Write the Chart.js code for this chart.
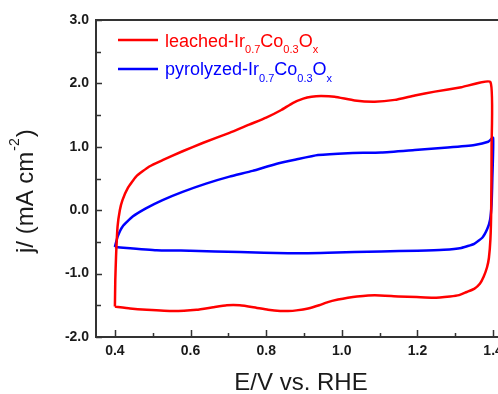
<!DOCTYPE html>
<html>
<head>
<meta charset="utf-8">
<script src="https://cdn.jsdelivr.net/npm/chart.js@4.4.1/dist/chart.umd.min.js"></script>
<style>
  html, body { margin: 0; padding: 0; background: #fff; }
  #wrap { width: 498px; height: 394px; overflow: hidden; }
  canvas { display: block; }
</style>
</head>
<body>
<div id="wrap"><canvas id="cvCanvas" width="512" height="394" style="width:512px;height:394px"></canvas></div>
<script>
(function(){
  'use strict';

  // ---- Datos ----
  const seriesNames  = ['leached-Ir_{0.7}Co_{0.3}O_{x}', 'pyrolyzed-Ir_{0.7}Co_{0.3}O_{x}'];
  const seriesColors = ['#ff0000', '#0000ff'];

  // leached: barrido anódico, vuelta por 1.4 V y barrido catódico
  const leachedE = [0.400, 0.401, 0.403, 0.407, 0.413, 0.420, 0.434, 0.456, 0.491, 0.526, 0.579, 0.632, 0.703,
                    0.755, 0.800, 0.840, 0.870, 0.898, 0.920, 0.945, 0.981, 1.034, 1.087, 1.140, 1.193, 1.246, 1.316,
                    1.393, 1.396, 1.395, 1.393, 1.389, 1.384, 1.375, 1.365, 1.350, 1.330, 1.310, 1.286, 1.242,
                    1.198, 1.149, 1.087, 1.040, 1.016, 0.990, 0.963, 0.940, 0.911, 0.880, 0.858, 0.837, 0.805,
                    0.766, 0.730, 0.696, 0.660, 0.616, 0.554, 0.484, 0.440, 0.400];
  const leachedJ = [-1.52, -1.10, -0.73, -0.26, 0.00, 0.16, 0.35, 0.53, 0.69, 0.79, 0.93, 1.06, 1.22,
                    1.35, 1.46, 1.58, 1.69, 1.76, 1.79, 1.80, 1.79, 1.73, 1.71, 1.74, 1.81, 1.87, 1.94,
                    2.02, 1.00, 0.00, -0.45, -0.75, -0.90, -1.05, -1.16, -1.24, -1.29, -1.34, -1.36, -1.38,
                    -1.37, -1.36, -1.34, -1.36, -1.38, -1.41, -1.45, -1.50, -1.55, -1.58, -1.59, -1.59, -1.57,
                    -1.53, -1.50, -1.50, -1.53, -1.57, -1.59, -1.57, -1.55, -1.52];

  const pyrolyzedE = [0.400, 0.407, 0.420, 0.447, 0.482, 0.526, 0.579, 0.641, 0.703, 0.764, 0.826, 0.879, 0.937,
                      1.016, 1.104, 1.193, 1.280, 1.351, 1.387, 1.400, 1.398, 1.396, 1.392, 1.385, 1.372, 1.350,
                      1.316, 1.270, 1.200, 1.104, 0.963, 0.858, 0.730, 0.600, 0.510, 0.400];
  const pyrolyzedJ = [-0.58, -0.42, -0.26, -0.10, 0.03, 0.16, 0.29, 0.42, 0.53, 0.62, 0.73, 0.80, 0.87,
                      0.90, 0.91, 0.95, 0.99, 1.03, 1.08, 1.14, 0.50, 0.10, -0.15, -0.29, -0.43, -0.53,
                      -0.595, -0.625, -0.64, -0.65, -0.67, -0.68, -0.66, -0.64, -0.63, -0.58];

  const xMajorTicks = [0.4, 0.6, 0.8, 1.0, 1.2, 1.4];
  const xMinorTicks = [0.5, 0.7, 0.9, 1.1, 1.3];
  const yMajorTicks = [-2, -1, 0, 1, 2, 3];
  const yMinorTicks = [-1.5, -0.5, 0.5, 1.5, 2.5];

  const xTitle = 'E/V vs. RHE';
  const yTitle = ['j/ (mA cm', '-2', ')'];   // texto, superíndice, cierre

  // ---- Estilo ----
  const FONT = '"Liberation Sans", Arial, sans-serif';
  const AXIS = '#333333';
  const TEXT = '#1a1a1a';

  const toPts = (xs, ys) => xs.map((v, i) => ({ x: v, y: ys[i] }));
  const isMajor = (arr, v) => arr.some(t => Math.abs(t - v) < 1e-6);

  // Texto con subíndices: "Ir_{0.7}" -> Ir + 0.7 bajado
  function drawRich(ctx, str, x, base, color){
    ctx.fillStyle = color;
    ctx.textAlign = 'left';
    ctx.textBaseline = 'alphabetic';
    str.split(/(_\{[^}]*\})/).filter(Boolean).forEach(part => {
      if (part.startsWith('_{')) {
        const t = part.slice(2, -1);
        ctx.font = '11px ' + FONT;
        ctx.fillText(t, x, base + 6.5);
        x += ctx.measureText(t).width;
      } else {
        ctx.font = '18px ' + FONT;
        ctx.fillText(part, x, base);
        x += ctx.measureText(part).width;
      }
    });
  }

  const decor = {
    id: 'decor',
    afterDraw(chart){
      const { ctx, chartArea: a, scales: { x, y } } = chart;
      ctx.save();

      // ticks hacia dentro
      ctx.strokeStyle = AXIS;
      ctx.lineWidth = 1.5;
      ctx.beginPath();
      xMajorTicks.concat(xMinorTicks).forEach(v => {
        const px = Math.round(x.getPixelForValue(v)) + 0.5;
        const len = isMajor(xMajorTicks, v) ? 7 : 4;
        ctx.moveTo(px, a.bottom); ctx.lineTo(px, a.bottom - len);
      });
      yMajorTicks.concat(yMinorTicks).forEach(v => {
        const py = Math.round(y.getPixelForValue(v)) + 0.5;
        const len = isMajor(yMajorTicks, v) ? 6 : 5;
        ctx.moveTo(a.left, py); ctx.lineTo(a.left + len, py);
      });
      ctx.stroke();

      // borde superior
      ctx.lineWidth = 2;
      ctx.beginPath();
      ctx.moveTo(a.left - 1, a.top); ctx.lineTo(a.right, a.top);
      ctx.stroke();

      // títulos de ejes
      ctx.fillStyle = TEXT;
      ctx.font = '24px ' + FONT;
      ctx.textAlign = 'center';
      ctx.textBaseline = 'alphabetic';
      ctx.fillText(xTitle, 301, 390);

      ctx.save();
      ctx.translate(33, 253);
      ctx.rotate(-Math.PI / 2);
      ctx.textAlign = 'left';
      let tx = 0;
      ctx.font = '24px ' + FONT;
      ctx.fillText(yTitle[0], tx, 0); tx += ctx.measureText(yTitle[0]).width + 1;
      ctx.font = '14px ' + FONT;
      ctx.fillText(yTitle[1], tx, -14); tx += ctx.measureText(yTitle[1]).width + 1;
      ctx.font = '24px ' + FONT;
      ctx.fillText(yTitle[2], tx, 0);
      ctx.restore();

      // leyenda
      const rows = [{ ly: 40, base: 46.7 }, { ly: 69, base: 75 }];
      seriesNames.forEach((name, i) => {
        ctx.strokeStyle = seriesColors[i];
        ctx.lineWidth = 2.5;
        ctx.beginPath();
        ctx.moveTo(118, rows[i].ly); ctx.lineTo(158, rows[i].ly);
        ctx.stroke();
        drawRich(ctx, name, 165, rows[i].base, seriesColors[i]);
      });

      ctx.restore();
    }
  };

  const canvas = document.getElementById('cvCanvas');
  new Chart(canvas.getContext('2d'), {
    type: 'scatter',
    data: {
      datasets: [
        { label: seriesNames[0], data: toPts(leachedE, leachedJ), borderColor: seriesColors[0] },
        { label: seriesNames[1], data: toPts(pyrolyzedE, pyrolyzedJ), borderColor: seriesColors[1] }
      ]
    },
    options: {
      responsive: false,
      animation: false,
      layout: { padding: { left: 0, right: 0, top: 20, bottom: 0 } },
      datasets: { scatter: { showLine: true, borderWidth: 2.5, pointRadius: 0, tension: 0.15, fill: false } },
      plugins: { legend: { display: false }, tooltip: { enabled: false } },
      scales: {
        x: {
          type: 'linear', min: 0.35, max: 1.45,
          grid: { display: false, drawTicks: false },
          border: { display: true, color: AXIS, width: 2 },
          afterBuildTicks: (s) => { s.ticks = xMajorTicks.concat(xMinorTicks).sort((p, q) => p - q).map(v => ({ value: v })); },
          afterFit: (s) => { s.height = 57; },
          ticks: {
            autoSkip: false, maxRotation: 0, padding: 6, color: TEXT,
            font: { family: FONT, size: 14, weight: 'bold' },
            callback: (v) => isMajor(xMajorTicks, v) ? Number(v).toFixed(1) : ''
          }
        },
        y: {
          type: 'linear', min: -2, max: 3,
          grid: { display: false, drawTicks: false },
          border: { display: true, color: AXIS, width: 2 },
          afterBuildTicks: (s) => { s.ticks = yMajorTicks.concat(yMinorTicks).sort((p, q) => p - q).map(v => ({ value: v })); },
          afterFit: (s) => { s.width = 96; },
          ticks: {
            autoSkip: false, padding: 7, color: TEXT,
            font: { family: FONT, size: 14, weight: 'bold' },
            callback: (v) => isMajor(yMajorTicks, v) ? Number(v).toFixed(1) : ''
          }
        }
      }
    },
    plugins: [decor]
  });
})();
</script>
</body>
</html>
